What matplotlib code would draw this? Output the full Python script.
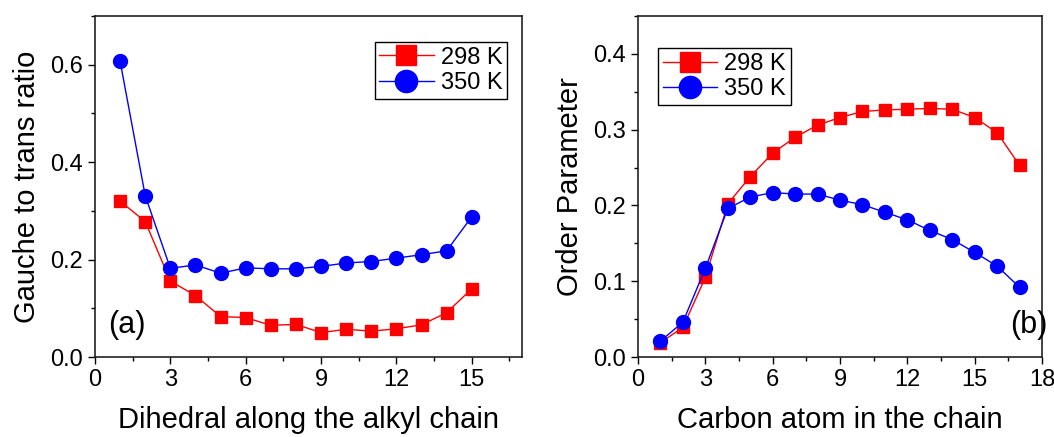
import matplotlib
matplotlib.use('Agg')
import matplotlib.pyplot as plt
from matplotlib.ticker import MultipleLocator

# --- data ---
dihedral = list(range(1, 16))
gauche_298 = [0.320, 0.278, 0.156, 0.126, 0.083, 0.081, 0.065, 0.067,
              0.050, 0.057, 0.053, 0.058, 0.066, 0.091, 0.140]
gauche_350 = [0.607, 0.331, 0.182, 0.189, 0.172, 0.183, 0.181, 0.181,
              0.186, 0.193, 0.196, 0.203, 0.210, 0.218, 0.288]

carbon = list(range(1, 18))
order_298 = [0.019, 0.039, 0.105, 0.202, 0.238, 0.269, 0.290, 0.306, 0.316,
             0.324, 0.326, 0.327, 0.328, 0.327, 0.316, 0.296, 0.253]
order_350 = [0.021, 0.046, 0.117, 0.196, 0.211, 0.217, 0.215, 0.215, 0.207,
             0.201, 0.191, 0.181, 0.167, 0.155, 0.138, 0.120, 0.092]

labels = ['298 K', '350 K']

plt.rcParams['font.family'] = ['Liberation Sans', 'DejaVu Sans']

fig = plt.figure(figsize=(10.54, 4.37), dpi=100)
ax1 = fig.add_axes([95 / 1054, 1 - 357 / 437, 427 / 1054, 341 / 437])
ax2 = fig.add_axes([638 / 1054, 1 - 357 / 437, 404 / 1054, 341 / 437])


def style(ax, xmax, ymax, ymaj, ymin):
    ax.set_xlim(0, xmax)
    ax.set_ylim(0, ymax)
    ax.xaxis.set_major_locator(MultipleLocator(3))
    ax.xaxis.set_minor_locator(MultipleLocator(1.5))
    ax.yaxis.set_major_locator(MultipleLocator(ymaj))
    ax.yaxis.set_minor_locator(MultipleLocator(ymin))
    ax.tick_params(which='both', direction='out', top=False, right=False,
                   labelsize=17, width=1)
    ax.tick_params(which='major', length=5)
    ax.tick_params(which='minor', length=3)
    for s in ax.spines.values():
        s.set_color('#222222')
        s.set_linewidth(1.2)


legend_kw = dict(fontsize=17, markerscale=1.6, fancybox=False,
                 edgecolor='black', framealpha=1, handlelength=2.3,
                 borderpad=0.2, labelspacing=0.15, handletextpad=0.3,
                 borderaxespad=0)

# panel (a)
ax1.plot(dihedral, gauche_298, '-s', color='red', ms=9, lw=1, label=labels[0])
ax1.plot(dihedral, gauche_350, '-o', color='blue', ms=10, lw=1, label=labels[1])
style(ax1, 17, 0.7, 0.2, 0.1)
ax1.set_xlabel('Dihedral along the alkyl chain', fontsize=21, labelpad=11)
ax1.set_ylabel('Gauche to trans ratio', fontsize=21, labelpad=7)
ax1.text(0.03, 0.07, '(a)', transform=ax1.transAxes, fontsize=22)
ax1.legend(loc='upper right', bbox_to_anchor=(0.965, 0.924), **legend_kw)

# panel (b)
ax2.plot(carbon, order_298, '-s', color='red', ms=9, lw=1, label=labels[0])
ax2.plot(carbon, order_350, '-o', color='blue', ms=10, lw=1, label=labels[1])
style(ax2, 18, 0.45, 0.1, 0.05)
ax2.set_xlabel('Carbon atom in the chain', fontsize=21, labelpad=11)
ax2.set_ylabel('Order Parameter', fontsize=21, labelpad=7)
ax2.text(0.92, 0.07, '(b)', transform=ax2.transAxes, fontsize=22)
ax2.legend(loc='upper left', bbox_to_anchor=(0.05, 0.906), **legend_kw)

fig.savefig('out.png', dpi=100)
